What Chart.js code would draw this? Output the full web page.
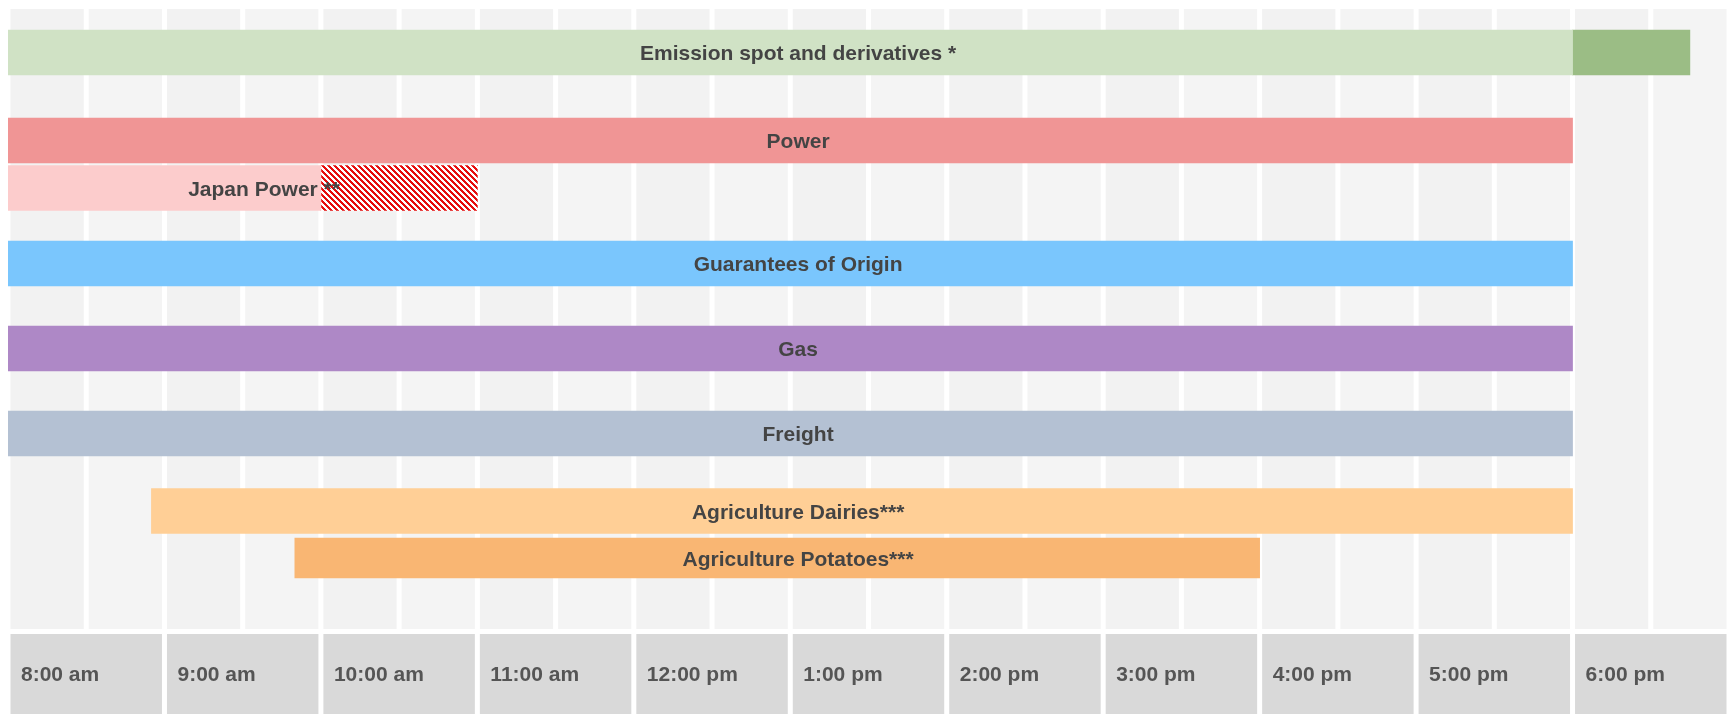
<!DOCTYPE html>
<html lang="en">
<head>
<meta charset="UTF-8">
<title>Trading hours</title>
<script src="https://cdn.jsdelivr.net/npm/chart.js"></script>
<style>
  html, body { margin: 0; padding: 0; background: #fff; }
  #wrap { width: 1729px; height: 714px; }
</style>
</head>
<body>
<div id="wrap"><canvas id="hoursChart"></canvas></div>
<script>
// trading sessions per product (local time)
const products = ['Emission spot and derivatives *', 'Power', 'Japan Power **', 'Guarantees of Origin',
                  'Gas', 'Freight', 'Agriculture Dairies***', 'Agriculture Potatoes***'];
const lanes = [4.35, 13.15, 17.9, 25.45, 33.95, 42.45, 50.2, 54.9];
const opens = ['8:00', '8:00', '8:00', '8:00', '8:00', '8:00', '8:55', '9:50'];
const closes = ['18:00', '18:00', '10:00', '18:00', '18:00', '18:00', '18:00', '16:00'];

// extra sessions drawn after the main one
const extProducts = ['Emission spot and derivatives *', 'Japan Power **'];
const extOpens = ['18:00', '10:00'];
const extCloses = ['18:45', '11:00'];

const tickLabels = ['8:00 am', '9:00 am', '10:00 am', '11:00 am', '12:00 pm', '1:00 pm',
                    '2:00 pm', '3:00 pm', '4:00 pm', '5:00 pm', '6:00 pm'];

const colors = ['#d0e2c5', '#f09595', '#fccccc', '#7ac6fd', '#ae88c6', '#b4c1d3', '#ffcf96', '#f9b673'];
const FONT = 'Arial, "Liberation Sans", Helvetica, sans-serif';

function toHours(s) {
    const [h, m] = s.split(':').map(Number);
    return h + m / 60;
}

// red/white diagonal hatch
function hatch() {
    const n = 6;
    const c = document.createElement('canvas');
    c.width = n; c.height = n;
    const g = c.getContext('2d');
    g.fillStyle = '#fff';
    g.fillRect(0, 0, n, n);
    g.fillStyle = '#e60d0d';
    for (let y = 0; y < n; y++) {
        for (let x = 0; x < n; x++) {
            if (((x - y) % n + n) % n < 3) g.fillRect(x, y, 1, 1);
        }
    }
    return g.createPattern(c, 'repeat');
}

const datasets = products.map((name, i) => ({
    label: name,
    data: [{ x: [toHours(opens[i]), toHours(closes[i])], y: lanes[i] }],
    backgroundColor: colors[i],
    barThickness: i === 7 ? 40 : 45,
    stack: 'rows'
}));
extProducts.forEach((name, i) => {
    const row = products.indexOf(name);
    datasets.push({
        label: name + ' (ext)',
        data: [{ x: [toHours(extOpens[i]), toHours(extCloses[i])], y: lanes[row] }],
        backgroundColor: i === 0 ? '#9bbd85' : hatch(),
        barThickness: 45,
        stack: 'rows'
    });
});

const backdrop = {
    id: 'backdrop',
    beforeDraw(chart) {
        const { ctx, chartArea, scales: { x } } = chart;
        ctx.save();
        for (let t = x.min; t < x.max; t += 0.5) {
            const l = x.getPixelForValue(t) + 2.5;
            const r = x.getPixelForValue(t + 0.5) - 2.5;
            ctx.fillStyle = (t % 1 === 0) ? '#f2f2f2' : '#f4f4f4';
            ctx.fillRect(l, chartArea.top, r - l, chartArea.bottom - chartArea.top);
        }
        ctx.fillStyle = '#d9d9d9';
        for (let h = x.min; h < x.max; h++) {
            const l = x.getPixelForValue(h) + 2.5;
            const r = x.getPixelForValue(h + 1) - 2.5;
            ctx.fillRect(l, x.top + 5, r - l, x.bottom - x.top - 5);
        }
        ctx.restore();
    }
};

const rowLabels = {
    id: 'rowLabels',
    afterDatasetsDraw(chart) {
        const { ctx, scales: { x, y } } = chart;
        ctx.save();
        ctx.font = 'bold 21px ' + FONT;
        ctx.fillStyle = '#444';
        ctx.textBaseline = 'middle';
        products.forEach((name, i) => {
            const py = y.getPixelForValue(lanes[i]) + 2;
            if (name === 'Japan Power **') {
                // right aligned against the end of the main session, stars spill over
                ctx.textAlign = 'right';
                ctx.fillText(name, x.getPixelForValue(toHours(closes[i])) + 19, py);
            } else {
                ctx.textAlign = 'center';
                ctx.fillText(name, x.getPixelForValue(13.05), py);
            }
        });
        ctx.restore();
    }
};

new Chart(document.getElementById('hoursChart'), {
    type: 'bar',
    data: { datasets },
    options: {
        indexAxis: 'y',
        responsive: true,
        maintainAspectRatio: false,
        animation: false,
        layout: { padding: { left: 8, right: 0, top: 9, bottom: 0 } },
        plugins: { legend: { display: false }, tooltip: { enabled: false } },
        datasets: { bar: { borderWidth: 0 } },
        scales: {
            x: {
                type: 'linear',
                position: 'bottom',
                min: 8,
                max: 19,
                stacked: false,
                grid: { display: false, drawTicks: false },
                border: { display: false },
                afterFit: (s) => {
                    s.height = 85;
                    s.paddingLeft = 0;
                    s.paddingRight = 0;
                },
                ticks: {
                    stepSize: 1,
                    autoSkip: false,
                    maxRotation: 0,
                    align: 'start',
                    labelOffset: 13,
                    padding: 34,
                    color: '#555',
                    font: { family: FONT, size: 21, weight: 'bold' },
                    callback: (v, i) => tickLabels[i] || ''
                }
            },
            y: {
                type: 'linear',
                display: false,
                reverse: true,
                min: 0,
                max: 62,
                offset: false
            }
        }
    },
    plugins: [backdrop, rowLabels]
});
</script>
</body>
</html>
